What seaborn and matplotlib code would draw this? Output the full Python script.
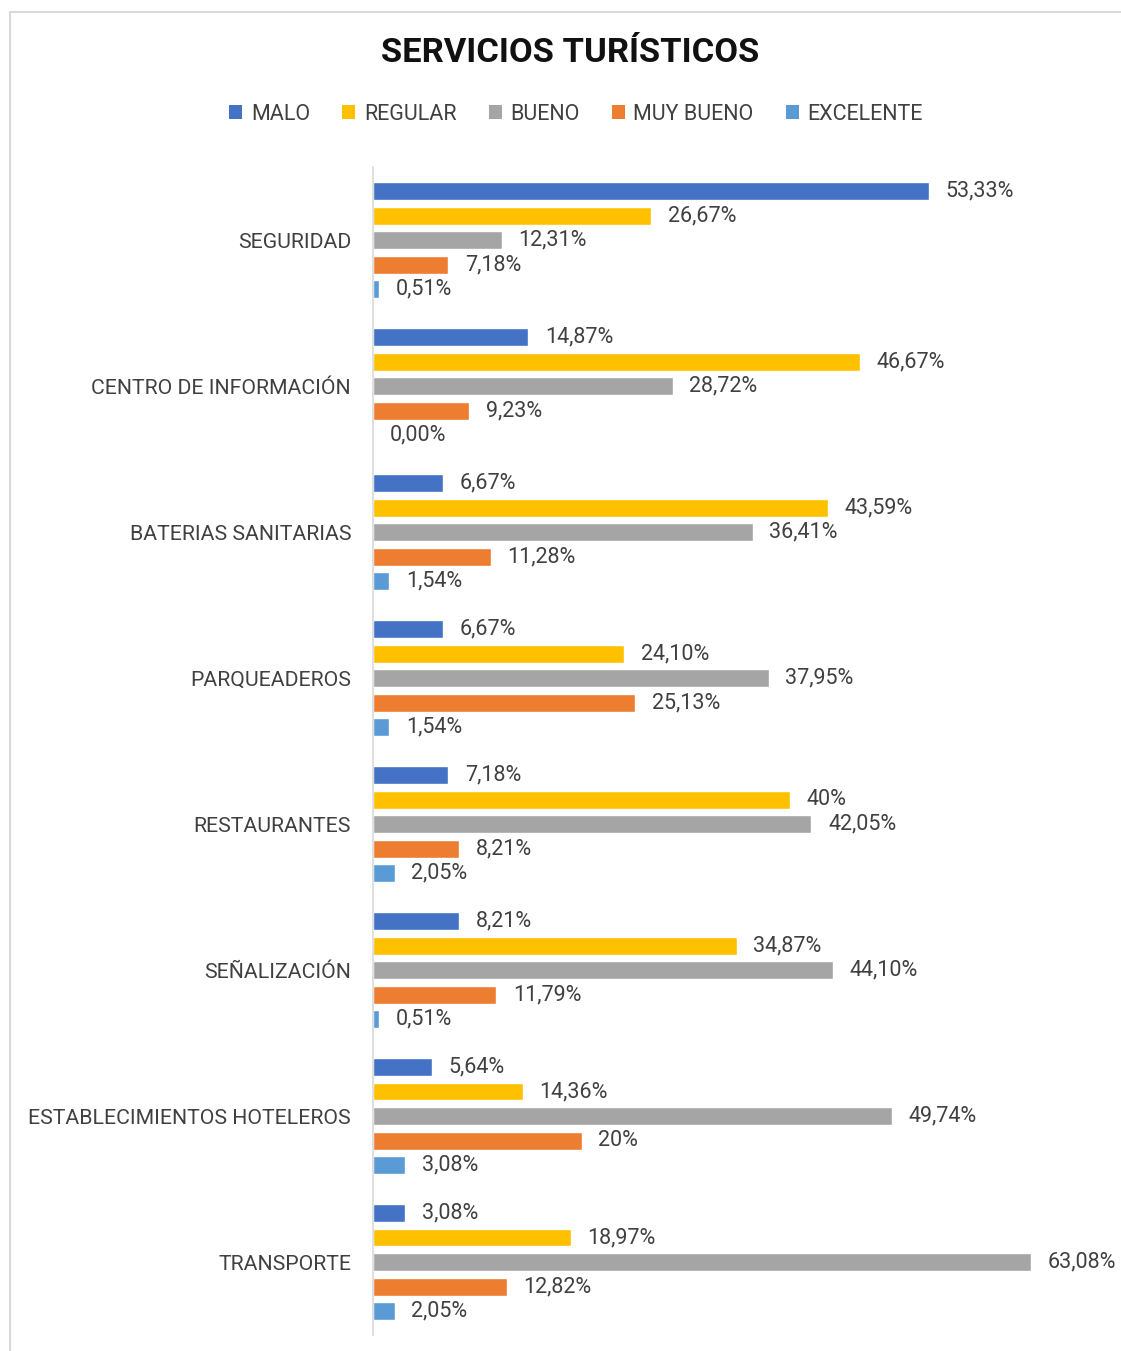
import matplotlib
matplotlib.use("Agg")
import matplotlib.pyplot as plt
import seaborn as sns
import pandas as pd
from matplotlib.patches import Patch, Rectangle

# Categories (top to bottom) and rating series
categories = ["SEGURIDAD", "CENTRO DE INFORMACIÓN", "BATERIAS SANITARIAS", "PARQUEADEROS",
              "RESTAURANTES", "SEÑALIZACIÓN", "ESTABLECIMIENTOS HOTELEROS", "TRANSPORTE"]
ratings = ["MALO", "REGULAR", "BUENO", "MUY BUENO", "EXCELENTE"]

malo = [53.33, 14.87, 6.67, 6.67, 7.18, 8.21, 5.64, 3.08]
regular = [26.67, 46.67, 43.59, 24.10, 40, 34.87, 14.36, 18.97]
bueno = [12.31, 28.72, 36.41, 37.95, 42.05, 44.10, 49.74, 63.08]
muy_bueno = [7.18, 9.23, 11.28, 25.13, 8.21, 11.79, 20, 12.82]
excelente = [0.51, 0.00, 1.54, 1.54, 2.05, 0.51, 3.08, 2.05]

colors = ["#4472C4", "#FFC000", "#A5A5A5", "#ED7D31", "#5B9BD5"]

# long-form table for seaborn
series = [malo, regular, bueno, muy_bueno, excelente]
df = pd.DataFrame({
    "Servicio": categories * len(ratings),
    "Calificacion": [r for r in ratings for _ in categories],
    "Porcentaje": [v for s in series for v in s],
})

sns.set_style("white")
plt.rcParams["font.family"] = ["Roboto", "DejaVu Sans"]

fig = plt.figure(figsize=(11.21, 13.51), dpi=100)
ax = fig.add_axes([0.333, 0.0118, 0.62, 0.8645])

sns.barplot(data=df, y="Servicio", x="Porcentaje", hue="Calificacion",
            order=categories, hue_order=ratings, palette=colors, saturation=1,
            orient="h", width=0.84, gap=0.27, ax=ax, legend=False)


def fmt(v):
    # Excel-style: whole numbers without decimals, comma as decimal mark
    if v and v == int(v):
        return f"{int(v)}%"
    return f"{v:.2f}".replace(".", ",") + "%"


for c in ax.containers:
    ax.bar_label(c, labels=[fmt(v) for v in c.datavalues], padding=12,
                 fontsize=15.5, color="#404040")

ax.set_xlim(0, 66.7)
ax.set_ylim(7.5, -0.5)
ax.set_xlabel("")
ax.set_ylabel("")
ax.set_xticks([])
ax.tick_params(axis="y", length=0, pad=16, labelsize=15.3, labelcolor="#404040")
for side in ["top", "right", "bottom"]:
    ax.spines[side].set_visible(False)
ax.spines["left"].set_color("#D9D9D9")
ax.spines["left"].set_linewidth(1.2)

# Title and legend
fig.text(0.509, 0.9605, "SERVICIOS TURÍSTICOS", ha="center", va="center",
         fontsize=24.8, fontweight="bold", color="#111111")
handles = [Patch(facecolor=c, edgecolor="none", label=r) for r, c in zip(ratings, colors)]
fig.legend(handles=handles, loc="center", bbox_to_anchor=(0.514, 0.9155), ncol=5,
           frameon=False, fontsize=15.5, handlelength=0.6, handleheight=0.6,
           handletextpad=0.4, columnspacing=1.5, labelcolor="#404040")

# chart area border (cropped at right and bottom like the screenshot)
fig.patches.append(Rectangle((0.0089, -0.05), 1.1, 1.041, transform=fig.transFigure,
                             fill=False, edgecolor="#D9D9D9", linewidth=1.5))

fig.savefig("out.png", dpi=100, facecolor="white")
